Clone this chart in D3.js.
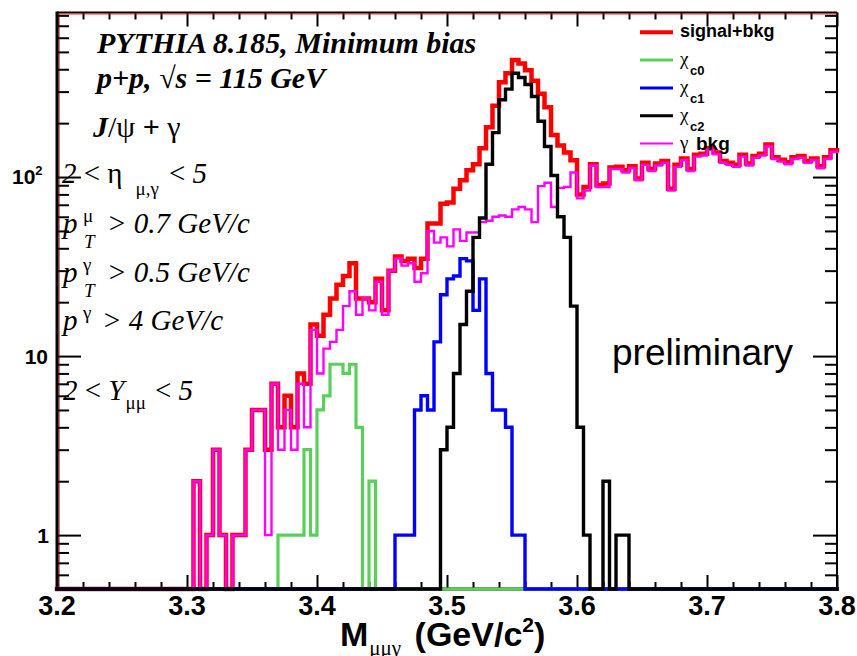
<!DOCTYPE html>
<html>
<head>
<meta charset="utf-8">
<script src="https://cdn.jsdelivr.net/npm/d3@7"></script>
<style>
  body { margin: 0; background: #fff; }
  svg { display: block; }
</style>
</head>
<body>
<script>
// 120 bins of 5 MeV from 3.2 to 3.8 GeV/c^2
var xMin = 3.2, xMax = 3.8, nBins = 120, binWidth = 0.005;

// each series: index of first stored bin + counts from there on
var sumStart = 21;
var sumCounts = [2, 0, 1, 3, 1, 0, 1, 1, 3, 5,
    5, 3, 7, 4, 6, 4, 8, 7, 15, 13,
    17, 21, 25, 28, 33, 21, 21, 20, 27, 18,
    30, 36, 34, 35, 31, 35, 55, 55, 71, 72,
    86, 96, 109, 118, 145, 190, 250, 338, 380, 450,
    431, 395, 345, 292, 245, 172, 150, 137, 124, 80,
    88, 118, 90, 92, 113, 114, 109, 115, 98, 120,
    111, 119, 123, 86, 117, 127, 111, 133, 135, 145,
    137, 123, 120, 117, 133, 119, 131, 135, 152, 129,
    125, 121, 129, 131, 123, 127, 115, 129, 141];

var bkgStart = 21;
var bkgCounts = [2, 0, 1, 3, 1, 0, 1, 1, 3, 5,
    5, 1, 7, 3, 5, 3, 7, 4, 14, 8,
    11, 12, 14, 19, 23, 17, 21, 18, 26, 17,
    30, 35, 32, 33, 26, 29, 50, 43, 46, 41,
    51, 44, 49, 49, 56, 57, 60, 61, 60, 66,
    68, 66, 56, 89, 93, 68, 87, 88, 106, 76,
    84, 116, 88, 88, 111, 111, 106, 112, 96, 117,
    108, 116, 120, 84, 114, 124, 108, 130, 132, 142,
    134, 120, 117, 114, 130, 116, 128, 132, 148, 126,
    122, 118, 126, 128, 120, 124, 112, 126, 138];

var chic0Start = 34;
var chic0Counts = [1, 1, 1, 1, 3, 1, 5, 6, 9, 9, 8, 9, 4, 0, 2];

var chic1Start = 52;
var chic1Counts = [1, 1, 1, 5, 6, 5, 12, 22, 27, 28, 35, 34, 18, 27, 8, 5, 5, 4, 1, 1];

var chic2Start = 59;
var chic2Counts = [3, 4, 8, 15, 23, 46, 59, 118, 177, 270, 310, 380, 360, 329, 282, 205,
    148, 102, 60, 46, 19, 4, 1, 0, 0, 2, 0, 1, 1];

var xMajor = [3.2, 3.3, 3.4, 3.5, 3.6, 3.7, 3.8];
var yMinor = [0.6, 0.7, 0.8, 0.9, 2, 3, 4, 5, 6, 7, 8, 9,
    20, 30, 40, 50, 60, 70, 80, 90, 200, 300, 400, 500, 600, 700, 800];

function fullHist(start, vals) {
    var h = new Array(nBins).fill(0);
    vals.forEach(function (v, i) { h[start + i] = v; });
    return h;
}

var series = [
    { label: "signal+bkg", color: "#ff0000", width: 4.5, counts: fullHist(sumStart, sumCounts) },
    { label: "bkg", color: "#ff00ff", width: 2.4, counts: fullHist(bkgStart, bkgCounts) },
    { label: "c0", color: "#5ad05a", width: 3.2, counts: fullHist(chic0Start, chic0Counts) },
    { label: "c1", color: "#0000ff", width: 3.4, counts: fullHist(chic1Start, chic1Counts) },
    { label: "c2", color: "#000000", width: 3.4, counts: fullHist(chic2Start, chic2Counts) }
];

var width = 857, height = 656;
var frame = { left: 57, right: 837, top: 12.5, bottom: 589 };

var svg = d3.select("body").append("svg")
    .attr("width", width)
    .attr("height", height);

var x = d3.scaleLinear().domain([xMin, xMax]).range([frame.left, frame.right]);
var y = d3.scaleLog().domain([0.5, 830]).range([frame.bottom, frame.top]);

// ---- ticks (drawn inside the frame, ROOT style)
function tickAxis(axis, tr) {
    var g = svg.append("g").attr("transform", tr).call(axis);
    g.select(".domain").remove();
    g.selectAll("line").attr("stroke", "#000").attr("stroke-width", 2);
    g.selectAll("text").remove();
    return g;
}

var xMinorTicks = d3.range(0, 31).map(function (i) { return xMin + i * 0.02; })
    .filter(function (v, i) { return i % 5 !== 0; });

tickAxis(d3.axisBottom(x).tickValues(xMajor).tickSize(-14), "translate(0," + frame.bottom + ")");
tickAxis(d3.axisBottom(x).tickValues(xMinorTicks).tickSize(-7), "translate(0," + frame.bottom + ")");
tickAxis(d3.axisTop(x).tickValues(xMajor).tickSize(-14), "translate(0," + frame.top + ")");
tickAxis(d3.axisTop(x).tickValues(xMinorTicks).tickSize(-7), "translate(0," + frame.top + ")");

tickAxis(d3.axisLeft(y).tickValues([1, 10, 100]).tickSize(-24), "translate(" + frame.left + ",0)");
tickAxis(d3.axisLeft(y).tickValues(yMinor).tickSize(-12), "translate(" + frame.left + ",0)");
tickAxis(d3.axisRight(y).tickValues([1, 10, 100]).tickSize(-24), "translate(" + frame.right + ",0)");
tickAxis(d3.axisRight(y).tickValues(yMinor).tickSize(-12), "translate(" + frame.right + ",0)");

// ---- frame
svg.append("line").attr("x1", frame.left).attr("x2", frame.right)
    .attr("y1", frame.top).attr("y2", frame.top)
    .attr("stroke", "#000").attr("stroke-width", 2);
svg.append("line").attr("x1", frame.right).attr("x2", frame.right)
    .attr("y1", frame.top).attr("y2", frame.bottom)
    .attr("stroke", "#000").attr("stroke-width", 2);
svg.append("line").attr("x1", frame.left + 2).attr("x2", frame.right)
    .attr("y1", frame.top + 1.5).attr("y2", frame.top + 1.5)
    .attr("stroke", "#ff0000").attr("stroke-width", 0.8);
svg.append("line").attr("x1", frame.left + 2).attr("x2", frame.left + 2)
    .attr("y1", frame.top + 2).attr("y2", frame.bottom)
    .attr("stroke", "#8b0000").attr("stroke-width", 1);
svg.append("line").attr("x1", frame.left).attr("x2", frame.left)
    .attr("y1", frame.top - 1).attr("y2", frame.bottom + 1.5)
    .attr("stroke", "#000").attr("stroke-width", 3);
svg.append("line").attr("x1", frame.left - 1.5).attr("x2", frame.right + 1)
    .attr("y1", frame.bottom).attr("y2", frame.bottom)
    .attr("stroke", "#000").attr("stroke-width", 3);

// ---- histograms as step lines, empty bins sit on the lower edge
var step = d3.line()
    .curve(d3.curveStepAfter)
    .x(function (d) { return x(d[0]); })
    .y(function (d) { return y(Math.max(d[1], 0.5)); });

function stepPoints(counts) {
    var pts = counts.map(function (v, i) { return [xMin + i * binWidth, v]; });
    pts.push([xMax, counts[counts.length - 1]]);
    return pts;
}

svg.append("g").selectAll("path")
    .data(series)
    .enter().append("path")
    .attr("d", function (d) { return step(stepPoints(d.counts)); })
    .attr("fill", "none")
    .attr("stroke", function (d) { return d.color; })
    .attr("stroke-width", function (d) { return d.width; })
    .attr("stroke-linejoin", "miter")
    .attr("stroke-linecap", "square");

// ---- axis labels
var sans = "'Liberation Sans', Arial, Helvetica, sans-serif";
var serif = "'Liberation Serif', 'Times New Roman', serif";

svg.append("g").selectAll("text")
    .data(xMajor)
    .enter().append("text")
    .attr("x", function (d) { return x(d); })
    .attr("y", 615)
    .attr("text-anchor", "middle")
    .attr("style", "font-family:" + sans + "; font-weight:bold; font-size:27px;")
    .text(function (d) { return d.toFixed(1); });

svg.append("text").attr("x", 49).attr("y", y(1) + 8)
    .attr("text-anchor", "end")
    .attr("style", "font-family:" + sans + "; font-weight:bold; font-size:21px;")
    .text("1");
svg.append("text").attr("x", 48).attr("y", y(10) + 8)
    .attr("text-anchor", "end")
    .attr("style", "font-family:" + sans + "; font-weight:bold; font-size:21px;")
    .text("10");
var hundred = svg.append("text").attr("x", 12).attr("y", y(100) + 7)
    .attr("style", "font-family:" + sans + "; font-weight:bold; font-size:21px;");
hundred.append("tspan").text("10");
hundred.append("tspan").attr("dy", -9).attr("font-size", "13px").text("2");

var title = svg.append("text").attr("x", 340).attr("y", 646)
    .attr("style", "font-family:" + sans + "; font-weight:bold; font-size:34px;");
title.append("tspan").text("M");
title.append("tspan").attr("dy", 9).attr("dx", 1)
    .attr("style", "font-family:" + serif + "; font-weight:normal; font-size:21px;")
    .text("μμγ");
title.append("tspan").attr("dy", -9).attr("dx", 4).text(" (GeV/c");
title.append("tspan").attr("dy", -14).attr("font-size", "21px").text("2");
title.append("tspan").attr("dy", 14).text(")");

// ---- annotation block
function latex(xp, yp, size, parts) {
    var t = svg.append("text").attr("x", xp).attr("y", yp)
        .attr("style", "font-family:" + serif + "; font-size:" + size + "px;");
    parts.forEach(function (p) {
        var s = t.append("tspan").text(p.t);
        if (p.style) s.attr("style", p.style);
        if (p.dx) s.attr("dx", p.dx);
        if (p.dy) s.attr("dy", p.dy);
    });
    return t;
}
var bi = "font-weight:bold; font-style:italic;";
var it = "font-style:italic;";
var up = "font-style:normal;";

latex(97, 53, 30, [{ t: "PYTHIA 8.185, Minimum bias", style: bi }]);
latex(97, 88, 30, [{ t: "p+p,  √s = 115 GeV", style: bi }]);
latex(93, 137, 30, [
    { t: "J", style: bi },
    { t: "/ψ", style: up },
    { t: " +  ", style: "font-weight:bold;" },
    { t: "γ", style: up }
]);
latex(62, 183, 29, [
    { t: "2 ", style: it },
    { t: "<", style: up },
    { t: " η", style: up },
    { t: "μ,γ", style: up + " font-size:19px;", dx: 13, dy: 12 },
    { t: "<", style: up, dx: 10, dy: -12 },
    { t: " 5", style: it }
]);

// p_T with stacked super/subscripts
function ptLine(yp, sup, sub, rest) {
    latex(63, yp, 29, [{ t: "p", style: it }]);
    latex(83, yp - 11, 19, [{ t: sup, style: up }]);
    if (sub) latex(84, yp + 15, 19, [{ t: sub, style: it }]);
    latex(sub ? 107 : 102, yp, 29, [{ t: rest, style: it }]);
}
ptLine(233, "μ", "T", "> 0.7 GeV/c");
ptLine(282, "γ", "T", "> 0.5 GeV/c");
ptLine(330, "γ", null, "> 4 GeV/c");

latex(63, 400, 29, [
    { t: "2 ", style: it },
    { t: "<", style: up },
    { t: " Y", style: it },
    { t: "μμ", style: up + " font-size:19px;", dx: 1, dy: 9 },
    { t: "<", style: up, dx: 9, dy: -9 },
    { t: " 5", style: it }
]);

svg.append("text").attr("x", 612).attr("y", 365)
    .attr("style", "font-family:" + sans + "; font-size:37px;")
    .text("preliminary");

// ---- legend
var legendRows = [
    { color: "#ff0000", width: 4, sym: null, text: "signal+bkg" },
    { color: "#5ad05a", width: 3, sym: "χ", sub: "c0" },
    { color: "#0000ff", width: 3, sym: "χ", sub: "c1" },
    { color: "#000000", width: 3, sym: "χ", sub: "c2" },
    { color: "#ff00ff", width: 2, sym: "γ", text: "bkg" }
];
var legend = svg.append("g").selectAll("g")
    .data(legendRows)
    .enter().append("g")
    .attr("transform", function (d, i) { return "translate(0," + (32.3 + i * 27.8) + ")"; });

legend.append("line")
    .attr("x1", 640).attr("x2", 673)
    .attr("stroke", function (d) { return d.color; })
    .attr("stroke-width", function (d) { return d.width; });

legend.each(function (d) {
    var g = d3.select(this);
    if (!d.sym) {
        g.append("text").attr("x", 680).attr("y", 5)
            .attr("style", "font-family:" + sans + "; font-weight:bold; font-size:18px;")
            .text(d.text);
        return;
    }
    g.append("text").attr("x", 680).attr("y", 5)
        .attr("style", "font-family:" + serif + "; font-size:19px;")
        .text(d.sym);
    if (d.sub) {
        g.append("text").attr("x", 690).attr("y", 15)
            .attr("style", "font-family:" + sans + "; font-weight:bold; font-size:13px;")
            .text(d.sub);
    } else {
        g.append("text").attr("x", 696).attr("y", 6)
            .attr("style", "font-family:" + sans + "; font-weight:bold; font-size:19px;")
            .text(d.text);
    }
});
</script>
</body>
</html>
